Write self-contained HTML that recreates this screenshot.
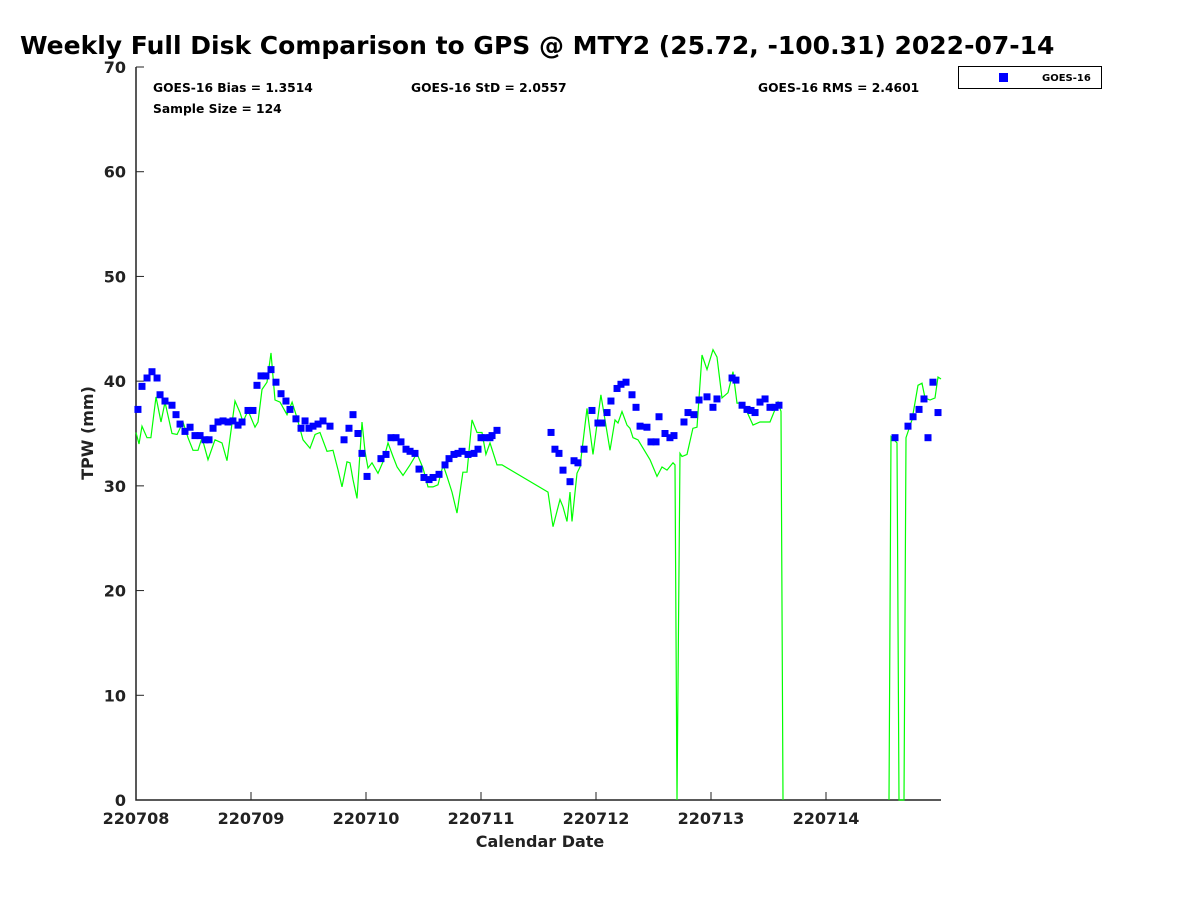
<!DOCTYPE html>
<html><head><meta charset="utf-8"><style>
body{margin:0;background:#fff;}
svg{display:block;font-family:"DejaVu Sans","Liberation Sans",sans-serif;}
</style></head><body>
<svg id="chart" width="1200" height="900">
<text x="20" y="54" font-size="25" font-weight="bold" fill="#000">Weekly Full Disk Comparison to GPS @ MTY2 (25.72, -100.31) 2022-07-14</text>
<g id="plot"></g>
<text x="153" y="92" font-size="12.3" font-weight="bold">GOES-16 Bias = 1.3514</text>
<text x="411" y="92" font-size="12.3" font-weight="bold">GOES-16 StD = 2.0557</text>
<text x="758" y="92" font-size="12.3" font-weight="bold">GOES-16 RMS = 2.4601</text>
<text x="153" y="113" font-size="12.3" font-weight="bold">Sample Size = 124</text>
<g>
<rect x="958.5" y="66.5" width="143" height="22" fill="#fff" stroke="#000"/>
<rect x="999" y="73" width="9" height="9" fill="#0000ff"/>
<text x="1042" y="81" font-size="10" font-weight="bold">GOES-16</text>
</g>
<text x="540" y="847" font-size="16" font-weight="bold" text-anchor="middle" fill="#222">Calendar Date</text>
<text transform="translate(93,433) rotate(-90)" font-size="16" font-weight="bold" text-anchor="middle" fill="#222">TPW (mm)</text>
</svg>
<script>
const xTickLabels=["220708","220709","220710","220711","220712","220713","220714"];
const yTicks=[0,10,20,30,40,50,60,70];
const goesX=[0.017,0.052,0.096,0.139,0.183,0.209,0.252,0.313,0.348,0.383,0.426,0.470,0.513,0.557,0.600,0.635,0.670,0.713,0.757,0.800,0.843,0.887,0.922,0.974,1.017,1.052,1.087,1.130,1.174,1.217,1.261,1.304,1.339,1.391,1.435,1.470,1.504,1.539,1.583,1.626,1.687,1.809,1.852,1.887,1.930,1.965,2.009,2.130,2.174,2.217,2.261,2.304,2.348,2.383,2.426,2.461,2.504,2.548,2.583,2.635,2.687,2.722,2.765,2.800,2.835,2.887,2.939,2.974,3.000,3.035,3.078,3.096,3.139,3.609,3.643,3.678,3.713,3.774,3.809,3.843,3.896,3.965,4.017,4.052,4.096,4.130,4.183,4.217,4.261,4.313,4.348,4.383,4.443,4.478,4.522,4.548,4.600,4.643,4.678,4.765,4.800,4.852,4.896,4.965,5.017,5.052,5.183,5.217,5.270,5.313,5.348,5.383,5.426,5.470,5.513,5.557,5.591,6.600,6.713,6.757,6.809,6.852,6.887,6.930,6.974];
const goesY=[37.3,39.5,40.3,40.9,40.3,38.7,38.1,37.7,36.8,35.9,35.2,35.6,34.8,34.8,34.4,34.4,35.5,36.1,36.2,36.1,36.2,35.8,36.1,37.2,37.2,39.6,40.5,40.5,41.1,39.9,38.8,38.1,37.3,36.4,35.5,36.2,35.5,35.7,35.9,36.2,35.7,34.4,35.5,36.8,35.0,33.1,30.9,32.6,33.0,34.6,34.6,34.2,33.5,33.3,33.1,31.6,30.8,30.6,30.8,31.1,32.0,32.6,33.0,33.1,33.3,33.0,33.1,33.5,34.6,34.6,34.6,34.8,35.3,35.1,33.5,33.1,31.5,30.4,32.4,32.2,33.5,37.2,36.0,36.0,37.0,38.1,39.3,39.7,39.9,38.7,37.5,35.7,35.6,34.2,34.2,36.6,35.0,34.6,34.8,36.1,37.0,36.8,38.2,38.5,37.5,38.3,40.3,40.1,37.7,37.3,37.2,37.0,38.0,38.3,37.5,37.5,37.7,34.6,35.7,36.6,37.3,38.3,34.6,39.9,37.0];
const gpsX=[0,0.026,0.052,0.096,0.130,0.174,0.217,0.252,0.313,0.357,0.409,0.452,0.496,0.539,0.574,0.626,0.687,0.748,0.791,0.861,0.904,0.930,0.974,1.035,1.061,1.096,1.139,1.174,1.209,1.252,1.313,1.357,1.400,1.452,1.513,1.557,1.600,1.661,1.713,1.757,1.791,1.835,1.861,1.887,1.922,1.965,1.991,2.017,2.052,2.104,2.148,2.191,2.235,2.270,2.322,2.383,2.443,2.496,2.539,2.583,2.626,2.670,2.704,2.748,2.791,2.843,2.878,2.922,2.965,3.009,3.043,3.078,3.139,3.183,3.583,3.626,3.687,3.713,3.748,3.774,3.791,3.835,3.861,3.922,3.974,4.043,4.122,4.165,4.191,4.226,4.270,4.296,4.322,4.365,4.470,4.530,4.574,4.617,4.670,4.687,4.704,4.730,4.748,4.791,4.843,4.878,4.922,4.965,5.017,5.052,5.096,5.148,5.191,5.226,5.278,5.365,5.426,5.513,5.583,5.609,5.626,null,6.548,6.565,6.617,6.635,6.678,6.696,6.748,6.800,6.835,6.861,6.904,6.948,6.974,7.0];
const gpsY=[35.1,34.0,35.7,34.6,34.6,38.5,36.1,38.0,35.0,34.9,36.1,34.6,33.4,33.4,34.6,32.5,34.4,34.1,32.4,38.1,37.0,36.1,37.2,35.6,36.1,39.2,39.9,42.7,38.2,38.0,36.8,38.0,36.5,34.4,33.6,34.9,35.1,33.3,33.4,31.5,29.9,32.3,32.2,30.6,28.8,36.1,33.3,31.7,32.2,31.2,32.3,34.1,32.8,31.8,31.0,32.0,33.1,31.7,29.9,29.9,30.1,32.0,30.9,29.4,27.4,31.3,31.3,36.3,35.1,35.1,33.0,34.1,32.0,32.0,29.4,26.1,28.7,28.0,26.6,29.4,26.6,31.2,31.8,37.4,33.0,38.7,33.4,36.3,36.0,37.1,35.8,35.5,34.6,34.4,32.5,30.9,31.8,31.5,32.2,32.0,0,33.1,32.8,33.0,35.5,35.6,42.5,41.1,43.0,42.3,38.4,38.9,40.9,37.9,37.9,35.8,36.1,36.1,38.0,37.1,0,null,0,34.7,34.1,0,0,34.6,36.3,39.6,39.8,38.4,38.2,38.4,40.4,40.2];
const NS="http://www.w3.org/2000/svg";
const L=136,R=941,T=67,B=800;
const xs=d=>L+d*(R-L)/7;
const ys=v=>B-v*(B-T)/70;
const plot=document.getElementById('plot');
function mk(tag,attrs){const e=document.createElementNS(NS,tag);for(const k in attrs)e.setAttribute(k,attrs[k]);return e;}
let ax=mk('path',{d:`M${L},${T}V${B}H${R}`,stroke:'#222',fill:'none','stroke-width':1.5});


plot.appendChild(ax);
yTicks.forEach(v=>{
 const t=mk('line',{x1:L,x2:L+8,y1:ys(v),y2:ys(v),stroke:'#222'});
 
 
 plot.appendChild(t);
 const tx=mk('text',{x:L-10,y:ys(v)+6,'text-anchor':'end','font-size':16,'font-weight':'bold',fill:'#222'});
 tx.textContent=v;
 
 
 plot.appendChild(tx);
});
xTickLabels.forEach((s,i)=>{
 const t=mk('line',{x1:xs(i),x2:xs(i),y1:B,y2:B-8,stroke:'#222'});
 
 
 plot.appendChild(t);
 const tx=mk('text',{x:xs(i),y:B+24,'text-anchor':'middle','font-size':16,'font-weight':'bold',fill:'#222'});
 tx.textContent=s;
 
 
 plot.appendChild(tx);
});
let d='',pen=false;
gpsX.forEach((x,i)=>{
 if(x===null||gpsY[i]===null){pen=false;return;}
 d+=(pen?'L':'M')+xs(x).toFixed(1)+','+ys(gpsY[i]).toFixed(1);pen=true;
});
const line=mk('path',{d:d,stroke:'#00ff00',fill:'none','stroke-width':1.2});


plot.appendChild(line);
goesX.forEach((x,i)=>{
 const r=mk('rect',{x:xs(x)-3.5,y:ys(goesY[i])-3.5,width:7,height:7,fill:'#0000ff'});
 
 
 plot.appendChild(r);
});
</script>
</body></html>
